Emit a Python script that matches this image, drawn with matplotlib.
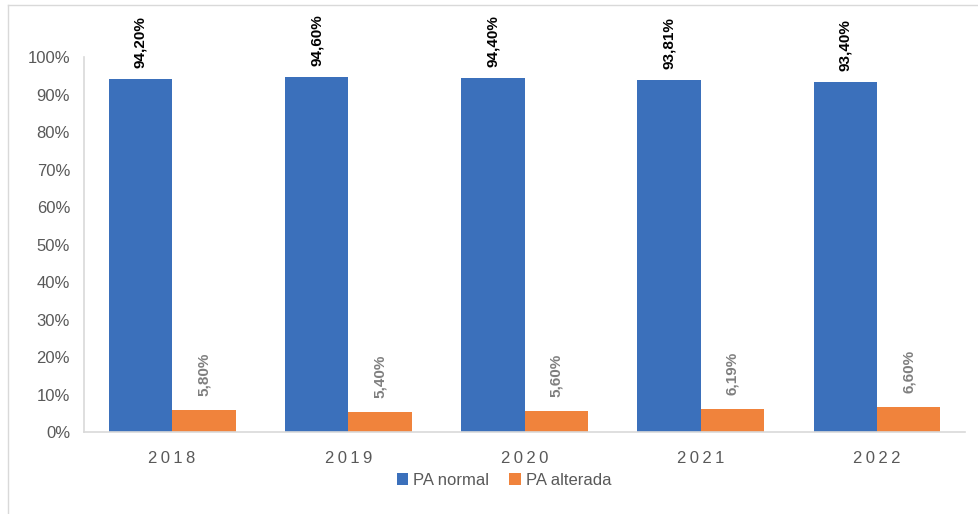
import matplotlib
matplotlib.use("Agg")
import matplotlib.pyplot as plt
from matplotlib.lines import Line2D
import numpy as np

# ---------------- DATA ---------------- #

years = ["2018", "2019", "2020", "2021", "2022"]
pa_normal = [94.20, 94.60, 94.40, 93.81, 93.40]
pa_alterada = [5.80, 5.40, 5.60, 6.19, 6.60]
series_names = ["PA normal", "PA alterada"]

BLUE = "#3B70BB"
ORANGE = "#F0833C"
GREY_TEXT = "#595959"
GRID_GREY = "#D9D9D9"

plt.rcParams["font.family"] = ["Liberation Sans", "DejaVu Sans"]


def fmt(v):
    return f"{v:.2f}".replace(".", ",") + "%"


def spaced(s):
    return "\u2009".join(s)


# ---------------- CHART ---------------- #

fig = plt.figure(figsize=(9.79, 5.14), dpi=100)
ax = fig.add_axes([0.0858, 0.1595, 0.9, 0.7296])

x = np.arange(len(years))
w = 0.36

bars1 = ax.bar(x - w / 2, np.array(pa_normal) / 100, w, color=BLUE, label=series_names[0])
bars2 = ax.bar(x + w / 2, np.array(pa_alterada) / 100, w, color=ORANGE, label=series_names[1])

for b, v in zip(bars1, pa_normal):
    ax.annotate(fmt(v), (b.get_x() + b.get_width() / 2, b.get_height()),
                xytext=(0, 8), textcoords="offset points", rotation=90,
                ha="center", va="bottom", fontsize=11, fontweight="bold", color="black")

for b, v in zip(bars2, pa_alterada):
    ax.annotate(fmt(v), (b.get_x() + b.get_width() / 2, b.get_height()),
                xytext=(0, 10), textcoords="offset points", rotation=90,
                ha="center", va="bottom", fontsize=11, fontweight="bold", color="#7F7F7F")

ax.set_xlim(-0.5, len(years) - 0.5)
ax.set_ylim(0, 1)
ax.set_yticks(np.arange(0, 1.01, 0.1))
ax.set_yticklabels([f"{int(round(t * 100))}%" for t in np.arange(0, 1.01, 0.1)],
                   fontsize=12, color=GREY_TEXT)
ax.set_xticks(x)
ax.set_xticklabels([spaced(y) for y in years], fontsize=12, color=GREY_TEXT)
ax.tick_params(axis="both", length=0)
ax.tick_params(axis="x", pad=14)
ax.tick_params(axis="y", pad=10)

for side in ["top", "right"]:
    ax.spines[side].set_visible(False)
for side in ["left", "bottom"]:
    ax.spines[side].set_color(GRID_GREY)
    ax.spines[side].set_linewidth(1.2)

fig.legend(loc="center", bbox_to_anchor=(0.515, 0.066), ncol=2, frameon=False,
           fontsize=12, handlelength=0.7, handleheight=0.7, handletextpad=0.3,
           columnspacing=1.2, labelcolor=GREY_TEXT)

# chart frame (left and top edges visible)
fx = 8 / 979
fy = 1 - 5 / 514
fig.add_artist(Line2D([fx, fx], [0, fy], transform=fig.transFigure, color=GRID_GREY, lw=1))
fig.add_artist(Line2D([fx, 1], [fy, fy], transform=fig.transFigure, color=GRID_GREY, lw=1))

fig.savefig("out.png", dpi=100)
